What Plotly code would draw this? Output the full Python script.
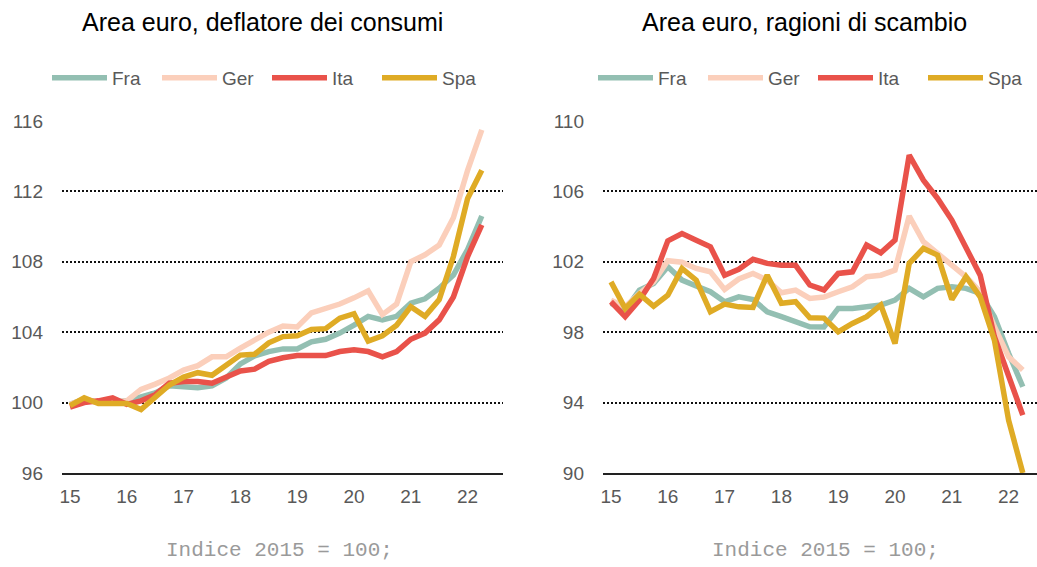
import plotly.graph_objects as go

# ---- data ----
quarters = [f"{y}Q{q}" for y in range(2015, 2023) for q in range(1, 5)][:30]  # 2015Q1 .. 2022Q2
tick_years = [2015, 2016, 2017, 2018, 2019, 2020, 2021, 2022]
tick_labels = ["15", "16", "17", "18", "19", "20", "21", "22"]
countries = ["Fra", "Ger", "Ita", "Spa"]
colors = ["#93bfb2", "#fbcfbb", "#e9524a", "#dfab25"]

# Area euro, deflatore dei consumi (Indice 2015 = 100)
fra_def = [99.9, 100.2, 100.0, 100.0, 100.1, 100.35, 100.55, 100.95, 100.9, 100.85, 100.95, 101.4, 102.2, 102.65, 102.9,
           103.05, 103.05, 103.45, 103.6, 103.95, 104.4, 104.9, 104.7, 104.9, 105.65, 105.9, 106.5, 107.25, 108.7, 110.6]
ger_def = [99.9, 100.2, 100.0, 100.0, 100.1, 100.75, 101.05, 101.4, 101.85, 102.1, 102.6, 102.6, 103.1, 103.55, 104.0,
           104.35, 104.3, 105.1, 105.35, 105.6, 105.95, 106.35, 105.0, 105.6, 108.0, 108.4, 108.95, 110.5, 113.2, 115.5]
ita_def = [99.75, 100.0, 100.1, 100.27, 99.9, 100.1, 100.45, 101.1, 101.2, 101.2, 101.1, 101.45, 101.8, 101.9, 102.35,
           102.55, 102.67, 102.67, 102.67, 102.9, 103.0, 102.9, 102.6, 102.9, 103.6, 103.95, 104.7, 106.0, 108.3, 110.1]
spa_def = [99.83, 100.27, 99.95, 99.95, 99.95, 99.6, 100.3, 101.0, 101.45, 101.7, 101.55, 102.1, 102.7, 102.75, 103.4,
           103.75, 103.8, 104.15, 104.2, 104.8, 105.05, 103.5, 103.8, 104.4, 105.45, 104.9, 105.85, 108.3, 111.6, 113.2]

# Area euro, ragioni di scambio (Indice 2015 = 100)
fra_tot = [99.64, 99.26, 100.39, 100.77, 101.72, 100.96, 100.62, 100.3, 99.73, 100.01, 99.86, 99.16, 98.88, 98.59, 98.31,
           98.3, 99.35, 99.35, 99.44, 99.54, 99.82, 100.49, 100.01, 100.49, 100.58, 100.49, 100.2, 98.88, 96.8, 94.9]
ger_tot = [99.82, 99.44, 100.2, 100.86, 102.06, 101.98, 101.62, 101.43, 100.43, 101.02, 101.34, 100.96, 100.24, 100.39, 99.92,
           100.0, 100.3, 100.58, 101.15, 101.24, 101.53, 104.6, 103.14, 102.48, 101.81, 101.15, 100.3, 98.31, 96.6, 95.85]
ita_tot = [99.73, 98.88, 99.82, 101.05, 103.19, 103.61, 103.23, 102.85, 101.24, 101.57, 102.14, 101.91, 101.8, 101.8, 100.68,
           100.4, 101.34, 101.43, 102.95, 102.51, 103.23, 108.06, 106.64, 105.6, 104.37, 102.85, 101.24, 97.74, 95.47, 93.29]
spa_tot = [100.86, 99.35, 100.16, 99.48, 100.1, 101.62, 100.96, 99.16, 99.6, 99.44, 99.41, 101.24, 99.64, 99.73, 98.82,
           98.8, 98.02, 98.5, 98.88, 99.54, 97.36, 101.91, 102.76, 102.38, 99.86, 101.15, 100.01, 97.55, 93.0, 90.0]

titles = ["Area euro, deflatore dei consumi", "Area euro, ragioni di scambio"]
note = "Indice 2015 = 100;"

# quarter label -> numeric year position
xq = [int(s[:4]) + (int(s[-1]) - 1) / 4 for s in quarters]

W, H = 1037, 567
fig = go.Figure()

panels = [
    (dict(zip(countries, [fra_def, ger_def, ita_def, spa_def])), "x", "y", "legend"),
    (dict(zip(countries, [fra_tot, ger_tot, ita_tot, spa_tot])), "x2", "y2", "legend2"),
]
for data, xa, ya, lg in panels:
    for c, col in zip(countries, colors):
        fig.add_trace(go.Scatter(x=xq, y=data[c], mode="lines", name=c,
                                 line=dict(color=col, width=5.5), xaxis=xa, yaxis=ya,
                                 legend=lg, hoverinfo="skip"))

tickfont = dict(family="Liberation Sans, Arial, sans-serif", size=19, color="#595959")
ydom = [1 - 473 / H, 1 - 121 / H]
common_x = dict(tickmode="array", tickvals=tick_years, ticktext=tick_labels, showgrid=False,
                showline=True, linecolor="#222222", linewidth=2, ticks="", tickfont=tickfont,
                zeroline=False, fixedrange=True, automargin=False, ticklabelstandoff=5)
common_y = dict(showgrid=True, gridcolor="#111111", gridwidth=2, griddash="2px,2px", ticks="",
                showline=False, zeroline=False, tickfont=tickfont, fixedrange=True, ticklabelstandoff=18,
                automargin=False)
legfont = dict(family="Liberation Sans, Arial, sans-serif", size=19, color="#595959")

fig.update_layout(
    width=W, height=H, margin=dict(l=0, r=0, t=0, b=0, autoexpand=False),
    paper_bgcolor="white", plot_bgcolor="white",
    showlegend=True,
    xaxis=dict(common_x, domain=[62 / W, 503 / W], range=[2015 - 8 / 56.8, 2015 + 433 / 56.8], anchor="y"),
    yaxis=dict(common_y, domain=ydom, range=[96, 116], tickvals=[96, 100, 104, 108, 112, 116], anchor="x"),
    xaxis2=dict(common_x, domain=[603 / W, 1.0], range=[2015 - 8 / 56.8, 2015 + 426 / 56.8], anchor="y2"),
    yaxis2=dict(common_y, domain=ydom, range=[90, 110], tickvals=[90, 94, 98, 102, 106, 110], anchor="x2"),
    legend=dict(orientation="h", x=47 / W, y=1 - 78 / H, xanchor="left", yanchor="middle",
                font=legfont, itemwidth=55, entrywidth=40, bgcolor="rgba(0,0,0,0)"),
    legend2=dict(orientation="h", x=593 / W, y=1 - 78 / H, xanchor="left", yanchor="middle",
                 font=legfont, itemwidth=55, entrywidth=40, bgcolor="rgba(0,0,0,0)"),
)

for txt, cx in zip(titles, [262, 804]):
    fig.add_annotation(text=txt, x=cx / W, y=1 - 22 / H, xref="paper", yref="paper",
                       xanchor="center", yanchor="middle", showarrow=False,
                       font=dict(family="Liberation Sans, Arial, sans-serif", size=25, color="#000000"))
for cx in [279, 825]:
    fig.add_annotation(text=note, x=cx / W, y=1 - 550 / H, xref="paper", yref="paper",
                       xanchor="center", yanchor="middle", showarrow=False,
                       font=dict(family="Liberation Mono, DejaVu Sans Mono, monospace", size=21, color="#9a9a9a"))

fig.write_html("out.html", config={"displayModeBar": False},
               post_script="document.body.style.margin='0px';document.body.style.padding='0px';")
